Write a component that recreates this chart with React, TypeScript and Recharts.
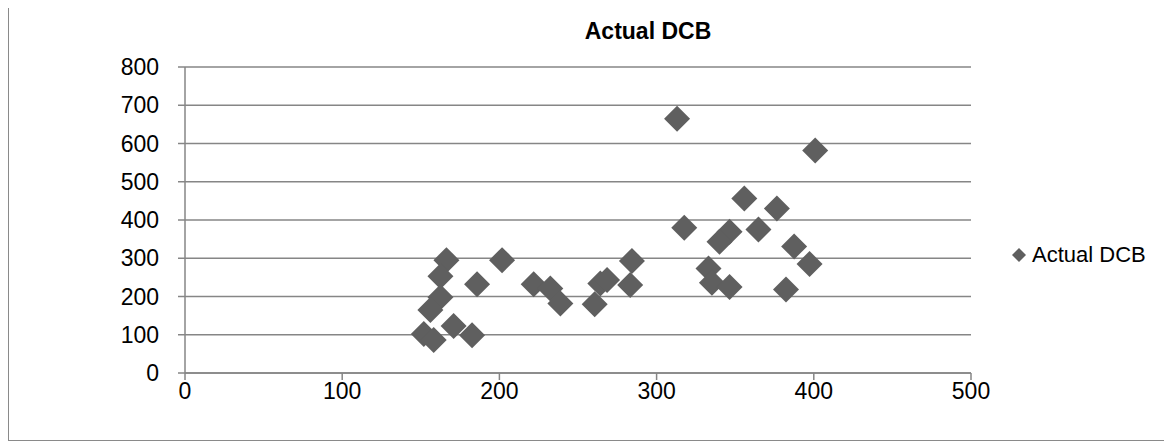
import React from "react";
import { ScatterChart, Scatter, XAxis, YAxis, CartesianGrid } from "recharts";

const seriesName = "Actual DCB";
const xValues = [166.3, 201.7, 162.5, 185.8, 162.5, 156.1, 151.9, 158.2, 170.9, 182.6, 221.8, 232.4, 238.8, 260.6, 264.2, 268.5, 284.3, 283.2, 313, 317.6, 355.8, 376.5, 364.8, 346.4, 340, 333, 335.2, 346.4, 400.9, 387.5, 397.3, 382.3];
const yValues = [295, 295, 253, 232, 198, 165, 102, 86, 123, 99, 232, 221, 182, 180, 234, 243, 293, 230, 665, 380, 456, 430, 375, 369, 343, 273, 236, 225, 582, 331, 285, 218];
const xTicks = [0, 100, 200, 300, 400, 500];
const yTicks = [0, 100, 200, 300, 400, 500, 600, 700, 800];

const data = xValues.map((x, i) => ({ x, y: yValues[i] }));

const MARK = "#5f5f5f";
const GRID = "#868686";
const FONT = "'Liberation Sans', Arial, sans-serif";

const Diamond = (props: any) => {
  const { cx, cy } = props;
  const r = 13;
  return (
    <polygon
      points={`${cx},${cy - r} ${cx + r},${cy} ${cx},${cy + r} ${cx - r},${cy}`}
      fill={MARK}
    />
  );
};

export default function App() {
  return (
    <div
      style={{
        position: "relative",
        width: 1155,
        height: 432,
        border: "1px solid #8a8a8a",
        marginTop: -1,
        fontFamily: FONT,
      }}
    >
      <div
        style={{
          position: "absolute",
          left: 0,
          width: 1278,
          top: 10,
          textAlign: "center",
          fontSize: 23,
          fontWeight: "bold",
          color: "#000",
        }}
      >
        {seriesName}
      </div>
      <div
        style={{
          position: "absolute",
          left: 1003,
          top: 234,
          display: "flex",
          alignItems: "center",
          fontSize: 22,
          color: "#000",
          whiteSpace: "nowrap",
        }}
      >
        <svg width={14} height={14} style={{ marginRight: 6 }}>
          <polygon points="7,0 14,7 7,14 0,7" fill={MARK} />
        </svg>
        {seriesName}
      </div>
      <ScatterChart
        width={1155}
        height={432}
        margin={{ top: 59, right: 193, left: 0, bottom: 0 }}
      >
        <CartesianGrid horizontal={true} vertical={false} stroke={GRID} strokeWidth={1.5} />
        <XAxis
          type="number"
          dataKey="x"
          domain={[0, 500]}
          ticks={xTicks}
          height={67}
          tickSize={7}
          tickMargin={3}
          axisLine={{ stroke: GRID, strokeWidth: 1.5 }}
          tickLine={{ stroke: GRID, strokeWidth: 1.5 }}
          tick={{ fill: "#000", fontSize: 23, fontFamily: FONT }}
          allowDataOverflow
        />
        <YAxis
          type="number"
          dataKey="y"
          domain={[0, 800]}
          ticks={yTicks}
          width={176}
          tickSize={7}
          tickMargin={19}
          axisLine={{ stroke: GRID, strokeWidth: 1.5 }}
          tickLine={{ stroke: GRID, strokeWidth: 1.5 }}
          tick={{ fill: "#000", fontSize: 23, fontFamily: FONT }}
          allowDataOverflow
        />
        <Scatter name={seriesName} data={data} shape={Diamond} isAnimationActive={false} />
      </ScatterChart>
    </div>
  );
}
